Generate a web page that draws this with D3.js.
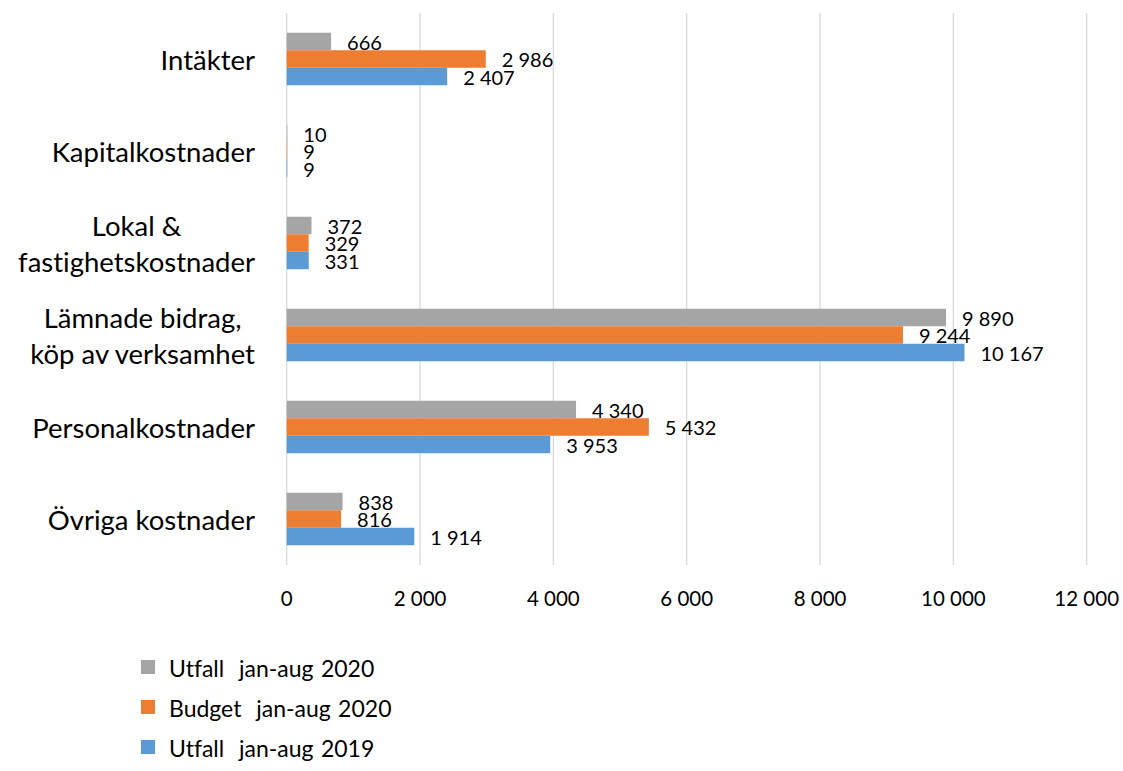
<!DOCTYPE html>
<html><head><meta charset="utf-8">
<script src="https://cdn.jsdelivr.net/npm/d3@7"></script>
<style>html,body{margin:0;padding:0;background:#fff}svg{display:block}text{font-variant-ligatures:none;font-feature-settings:"liga" 0}</style>
</head><body>
<script>
const categories = [["Intäkter"],["Kapitalkostnader"],["Lokal &","fastighetskostnader"],["Lämnade bidrag,","köp av verksamhet"],["Personalkostnader"],["Övriga kostnader"]];
const seriesNames = ["Utfall  jan-aug 2020","Budget  jan-aug 2020","Utfall  jan-aug 2019"];
const seriesColors = ["#A5A5A5","#ED7D31","#5B9BD5"];
const utfall2020 = [666, 10, 372, 9890, 4340, 838];
const budget2020 = [2986, 9, 329, 9244, 5432, 816];
const utfall2019 = [2407, 9, 331, 10167, 3953, 1914];
const xTicks = [0,2000,4000,6000,8000,10000,12000];

const series = [utfall2020, budget2020, utfall2019];
const W=1123,H=771;
const font = "Lato, 'Open Sans', sans-serif";
const svg = d3.select("body").append("svg").attr("width",W).attr("height",H);
const loc = d3.formatLocale({decimal:",",thousands:"\u00a0",grouping:[3],currency:["",""]});
const fmt = loc.format(",d");

const x = d3.scaleLinear().domain([0,12000]).range([286.7,1086.7]);
const y = d3.scaleBand().domain(d3.range(categories.length)).range([13,565]).paddingInner(0).paddingOuter(0);
const barH = 17.5;

// gridlines
svg.append("g").selectAll("line").data(xTicks).join("line")
  .attr("x1",d=>x(d)).attr("x2",d=>x(d)).attr("y1",13).attr("y2",565)
  .attr("stroke","#D9D9D9").attr("stroke-width",1.3);

// bars
series.forEach((vals,si)=>{
  const g = svg.append("g");
  g.selectAll("rect").data(vals).join("rect")
    .attr("x",x(0))
    .attr("y",(d,i)=>y(i)+y.bandwidth()/2 - 1.5*barH + si*barH)
    .attr("width",d=>x(d)-x(0))
    .attr("height",barH)
    .attr("fill",seriesColors[si]);
  g.selectAll("text").data(vals).join("text")
    .attr("x",d=>x(d)+16)
    .attr("y",(d,i)=>y(i)+y.bandwidth()/2 - 1.5*barH + si*barH + barH/2)
    .attr("dominant-baseline","central")
    .attr("font-family",font).attr("font-size",20).attr("fill","#000")
    .text(d=>fmt(d));
});

// category labels
const cl = svg.append("g");
categories.forEach((lines,i)=>{
  const cy = y(i)+y.bandwidth()/2;
  const lh = 36;
  const t = cl.append("text").attr("font-family",font).attr("font-size",27.5).attr("fill","#000")
    .attr("text-anchor","middle");
  lines.forEach((ln,j)=>{
    t.append("tspan").attr("x",0).attr("y",cy + (j-(lines.length-1)/2)*lh).attr("dominant-baseline","central").text(ln);
  });
  const bb = t.node().getBBox();
  t.attr("transform",`translate(${255 - bb.width/2},0)`);
});

// x axis labels
svg.append("g").selectAll("text").data(xTicks).join("text")
  .attr("x",d=>x(d)).attr("y",598).attr("text-anchor","middle").attr("dominant-baseline","central")
  .attr("font-family",font).attr("font-size",20.5).attr("fill","#000")
  .text(d=>fmt(d));

// legend
const lg = svg.append("g");
seriesNames.forEach((n,i)=>{
  const cy = 667 + i*40;
  lg.append("rect").attr("x",141).attr("y",cy-7).attr("width",14).attr("height",14).attr("fill",seriesColors[i]);
  lg.append("text").attr("x",169).attr("y",cy+1).attr("dominant-baseline","central")
    .attr("font-family",font).attr("font-size",23).attr("fill","#000")
    .style("white-space","pre").style("word-spacing","1.5px").text(n);
});
</script>
</body></html>
